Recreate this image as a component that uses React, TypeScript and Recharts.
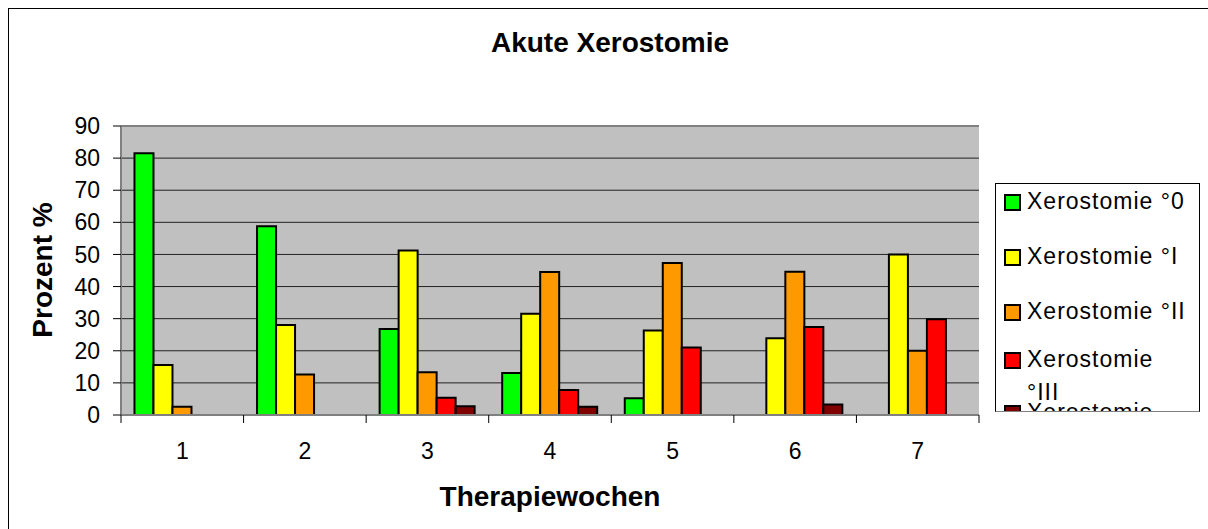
import { BarChart, Bar, XAxis, YAxis, CartesianGrid, ReferenceLine, Legend } from "recharts";

const weeks = ["1", "2", "3", "4", "5", "6", "7"];
const grade0 = [81.5, 58.8, 26.8, 13.1, 5.2, null, null];
const grade1 = [15.6, 28.0, 51.2, 31.5, 26.3, 23.9, 50.0];
const grade2 = [2.6, 12.6, 13.3, 44.5, 47.3, 44.6, 20.0];
const grade3 = [null, null, 5.4, 7.8, 21.0, 27.4, 29.8];
const grade4 = [null, null, 2.7, 2.6, null, 3.3, null];
const yTicks = [0, 10, 20, 30, 40, 50, 60, 70, 80, 90];

const series = [
  { key: "g0", name: "Xerostomie °0", color: "#00FF00", values: grade0 },
  { key: "g1", name: "Xerostomie °I", color: "#FFFF00", values: grade1 },
  { key: "g2", name: "Xerostomie °II", color: "#FF9900", values: grade2 },
  { key: "g3", name: "Xerostomie °III", color: "#FF0000", values: grade3 },
  { key: "g4", name: "Xerostomie °IV", color: "#800000", values: grade4 },
];

const data = weeks.map((week, i) => {
  const row: Record<string, string | number | null> = { week };
  series.forEach(s => { row[s.key] = s.values[i]; });
  return row;
});

const FONT = "'Liberation Sans', Arial, sans-serif";
const PLOT_LEFT = 121;
const PLOT_RIGHT = 979;
const BAND = (PLOT_RIGHT - PLOT_LEFT) / weeks.length;
const TICK_SIZE = 8;
const TICK_MARGIN = 20;

const WeekTick = (props: any) => {
  const { x, y, payload, index } = props;
  const y0 = y - TICK_MARGIN - TICK_SIZE;
  return (
    <g>
      <line x1={x - BAND / 2} x2={x - BAND / 2} y1={y0} y2={y0 + TICK_SIZE} stroke="#000" />
      {index === weeks.length - 1 && (
        <line x1={x + BAND / 2} x2={x + BAND / 2} y1={y0} y2={y0 + TICK_SIZE} stroke="#000" />
      )}
      <text x={x} y={y} dy="0.71em" textAnchor="middle" fontSize={23} fontFamily={FONT} fill="#000">
        {payload.value}
      </text>
    </g>
  );
};

// legend item tops inside the box (4th entry wraps to two lines)
const legendTops = [9, 64, 119, 167, 220];

const LegendBox = (props: any) => {
  const items = props.payload || [];
  return (
    <div style={{ position: "relative", width: 205, height: 229, border: "1px solid #000", borderBottomColor: "#808080", background: "#fff", overflow: "hidden", boxSizing: "border-box" }}>
      {items.map((it: any, i: number) => (
        <div key={it.value} style={{ position: "absolute", left: 8, top: legendTops[i], display: "flex", alignItems: "flex-start" }}>
          <div style={{ width: 13, height: 13, marginTop: 1, background: it.color, border: "2px solid #000" }} />
          <div style={{ marginLeft: 6, width: 163, fontFamily: FONT, fontSize: 23, letterSpacing: 1, lineHeight: "33px", marginTop: -8, color: "#000" }}>
            {it.value}
          </div>
        </div>
      ))}
    </div>
  );
};

export default function App() {
  return (
    <div style={{ position: "absolute", left: 0, top: 0, width: 1208, height: 529, overflow: "hidden", background: "#fff" }}>
      <div style={{ position: "absolute", left: 8, top: 8, width: 1200, height: 521, borderLeft: "1px solid #000", borderTop: "1px solid #000" }} />
      <div style={{ position: "absolute", left: 0, top: 29, width: 1220, textAlign: "center", fontFamily: FONT, fontWeight: "bold", fontSize: 28, lineHeight: "28px" }}>
        Akute Xerostomie
      </div>
      <div style={{ position: "absolute", left: 43, top: 270, transform: "translate(-50%, -50%) rotate(-90deg)", whiteSpace: "nowrap", fontFamily: FONT, fontWeight: "bold", fontSize: 28, lineHeight: "28px" }}>
        Prozent %
      </div>
      <div style={{ position: "absolute", left: 0, top: 483, width: 1100, textAlign: "center", fontFamily: FONT, fontWeight: "bold", fontSize: 28, lineHeight: "28px" }}>
        Therapiewochen
      </div>
      <div style={{ position: "absolute", left: 0, top: 0 }}>
        <BarChart
          width={1208}
          height={529}
          data={data}
          margin={{ top: 126, right: 229, bottom: 74, left: 61 }}
          barCategoryGap="11%"
          barGap={0}
        >
          <CartesianGrid vertical={false} fill="#C0C0C0" stroke="#222" strokeOpacity={1} />
          <XAxis
            dataKey="week"
            height={40}
            tickSize={TICK_SIZE}
            tickMargin={TICK_MARGIN}
            tickLine={{ stroke: "none" }}
            axisLine={{ stroke: "#808080", strokeWidth: 2 }}
            tick={<WeekTick />}
            interval={0}
          />
          <YAxis
            width={60}
            domain={[0, 90]}
            ticks={yTicks}
            tickSize={8}
            tickMargin={13}
            tickLine={{ stroke: "#000" }}
            axisLine={{ stroke: "#808080", strokeWidth: 2 }}
            tick={{ fontSize: 23, fontFamily: FONT, fill: "#000" }}
          />
          <YAxis
            yAxisId="frame"
            orientation="right"
            width={0}
            tick={false}
            tickLine={false}
            axisLine={{ stroke: "#808080", strokeWidth: 2 }}
          />
          <ReferenceLine y={90} stroke="#808080" strokeWidth={2} />
          {series.map(s => (
            <Bar key={s.key} dataKey={s.key} name={s.name} fill={s.color} stroke="#000" strokeWidth={2} isAnimationActive={false} />
          ))}
          <Legend
            layout="vertical"
            align="center"
            verticalAlign="middle"
            wrapperStyle={{ position: "absolute", left: 995, top: 183, width: 205, height: 229 }}
            content={<LegendBox />}
          />
        </BarChart>
      </div>
    </div>
  );
}
